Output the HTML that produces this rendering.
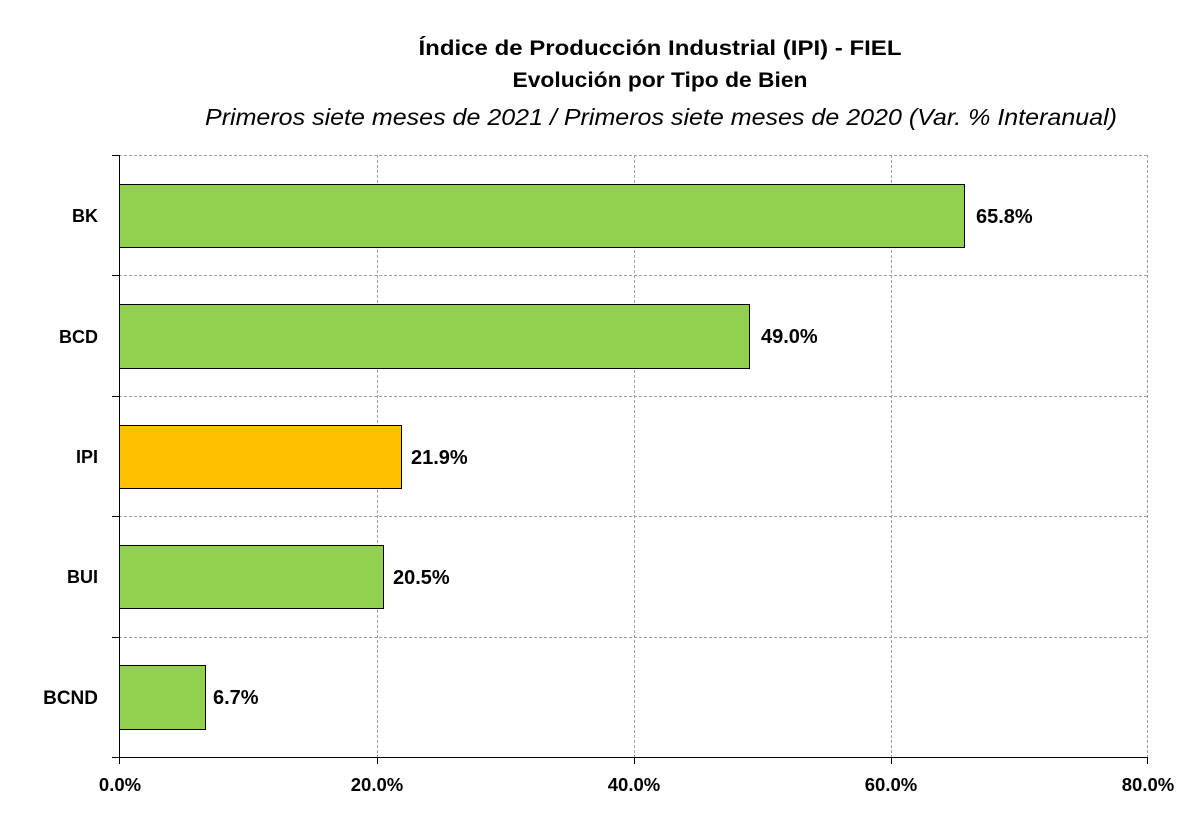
<!DOCTYPE html>
<html><head><meta charset="utf-8"><style>
body{margin:0;background:#fff;}
</style></head><body>
<svg width="1200" height="825" xmlns="http://www.w3.org/2000/svg" font-family="Liberation Sans, sans-serif">
<rect width="1200" height="825" fill="#fff"/>
<text x="660" y="55" text-anchor="middle" font-size="21" font-weight="bold" fill="#000" textLength="483" lengthAdjust="spacingAndGlyphs">Índice de Producción Industrial (IPI) - FIEL</text>
<text x="660" y="87" text-anchor="middle" font-size="21" font-weight="bold" fill="#000" textLength="295" lengthAdjust="spacingAndGlyphs">Evolución por Tipo de Bien</text>
<text x="661" y="125" text-anchor="middle" font-size="23" font-style="italic" fill="#000" textLength="912" lengthAdjust="spacingAndGlyphs">Primeros siete meses de 2021 / Primeros siete meses de 2020 (Var. % Interanual)</text>
<g stroke="#a0a0a0" stroke-width="1" stroke-dasharray="3,2" fill="none">
<line x1="119" y1="155.5" x2="1148" y2="155.5"/>
<line x1="119" y1="275.5" x2="1148" y2="275.5"/>
<line x1="119" y1="396.5" x2="1148" y2="396.5"/>
<line x1="119" y1="516.5" x2="1148" y2="516.5"/>
<line x1="119" y1="637.5" x2="1148" y2="637.5"/>
<line x1="377.5" y1="155" x2="377.5" y2="757"/>
<line x1="634.5" y1="155" x2="634.5" y2="757"/>
<line x1="891.5" y1="155" x2="891.5" y2="757"/>
<line x1="1147.5" y1="155" x2="1147.5" y2="757"/>
</g>
<g stroke="#000" stroke-width="1">
<rect x="119.5" y="184.5" width="845" height="63" fill="#92d050"/>
<rect x="119.5" y="304.5" width="630" height="64" fill="#92d050"/>
<rect x="119.5" y="425.5" width="282" height="63" fill="#ffc000"/>
<rect x="119.5" y="545.5" width="264" height="63" fill="#92d050"/>
<rect x="119.5" y="665.5" width="86" height="64" fill="#92d050"/>
<line x1="119.5" y1="155" x2="119.5" y2="757"/>
<line x1="119" y1="757.5" x2="1148" y2="757.5"/>
<line x1="112" y1="155.5" x2="119" y2="155.5"/>
<line x1="112" y1="275.5" x2="119" y2="275.5"/>
<line x1="112" y1="396.5" x2="119" y2="396.5"/>
<line x1="112" y1="516.5" x2="119" y2="516.5"/>
<line x1="112" y1="637.5" x2="119" y2="637.5"/>
<line x1="112" y1="757.5" x2="119" y2="757.5"/>
<line x1="119.5" y1="757" x2="119.5" y2="764"/>
<line x1="377.5" y1="757" x2="377.5" y2="764"/>
<line x1="634.5" y1="757" x2="634.5" y2="764"/>
<line x1="891.5" y1="757" x2="891.5" y2="764"/>
<line x1="1147.5" y1="757" x2="1147.5" y2="764"/>
</g>
<g font-size="18" font-weight="bold" fill="#000">
<text x="98" y="222" text-anchor="end">BK</text>
<text x="98" y="343" text-anchor="end">BCD</text>
<text x="98" y="463" text-anchor="end">IPI</text>
<text x="98" y="583" text-anchor="end">BUI</text>
<text x="98" y="704" text-anchor="end" font-size="19">BCND</text>
</g>
<g font-size="20" font-weight="bold" fill="#000">
<text x="976" y="223">65.8%</text>
<text x="761" y="343">49.0%</text>
<text x="411" y="464">21.9%</text>
<text x="393" y="584">20.5%</text>
<text x="213" y="704">6.7%</text>
</g>
<g font-size="18.5" font-weight="bold" fill="#000">
<text x="120" y="791" text-anchor="middle">0.0%</text>
<text x="377" y="791" text-anchor="middle">20.0%</text>
<text x="634" y="791" text-anchor="middle">40.0%</text>
<text x="891" y="791" text-anchor="middle">60.0%</text>
<text x="1148" y="791" text-anchor="middle">80.0%</text>
</g>
</svg>
</body></html>
